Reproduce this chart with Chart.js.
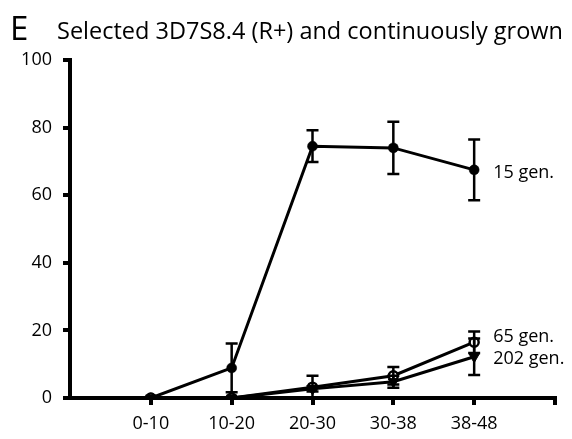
<!DOCTYPE html>
<html>
<head>
<meta charset="utf-8">
<script src="https://cdn.jsdelivr.net/npm/chart.js@4/dist/chart.umd.min.js"></script>
<style>
  html, body { margin: 0; padding: 0; background: #fff; }
  #wrap { width: 572px; height: 439px; }
</style>
</head>
<body>
<div id="wrap"><canvas id="chart"></canvas></div>
<script>
const categories = ["0-10", "10-20", "20-30", "30-38", "38-48"];
const yTicks = [0, 20, 40, 60, 80, 100];
const seriesNames = ["202 gen.", "65 gen.", "15 gen."];
const gen202 = [0, 0, 2.7, 4.8, 12.2];
const gen202Err = [0, 0, 0.8, 1.8, 5.4];
const gen65 = [0, 0, 3.2, 6.6, 16.5];
const gen65Err = [0, 0, 3.4, 2.6, 3.2];
const gen15 = [0, 8.9, 74.5, 74, 67.5];
const gen15Err = [0, 7.2, 4.7, 7.7, 9];

const FONT = "'Open Sans', 'Noto Sans', sans-serif";

const toPoints = (vals) => vals.map((v, i) => ({ x: i, y: v }));

// error bars + end labels drawn through the chart scales
const extrasPlugin = {
  id: "extras",
  afterDatasetsDraw(chart) {
    const ctx = chart.ctx;
    const xs = chart.scales.x, ys = chart.scales.y;
    const errs = [gen202Err, gen65Err, gen15Err];
    ctx.save();
    ctx.strokeStyle = "#000";
    ctx.lineWidth = 2.5;
    chart.data.datasets.forEach((ds, di) => {
      ds.data.forEach((p, i) => {
        const e = errs[di][i];
        if (!e) return;
        const px = xs.getPixelForValue(p.x);
        const top = ys.getPixelForValue(p.y + e);
        const bot = ys.getPixelForValue(Math.max(0, p.y - e));
        ctx.beginPath();
        ctx.moveTo(px, top); ctx.lineTo(px, bot);
        ctx.moveTo(px - 6, top); ctx.lineTo(px + 6, top);
        if (p.y - e > 0) { ctx.moveTo(px - 6, bot); ctx.lineTo(px + 6, bot); }
        ctx.stroke();
      });
    });
    ctx.fillStyle = "#000";
    ctx.font = "18px " + FONT;
    ctx.textBaseline = "middle";
    const last = categories.length - 1;
    const lx = xs.getPixelForValue(last) + 19;
    ctx.fillText(seriesNames[2], lx, ys.getPixelForValue(gen15[last]) + 3);
    ctx.fillText(seriesNames[1], lx, ys.getPixelForValue(gen65[last]) - 5);
    ctx.fillText(seriesNames[0], lx, ys.getPixelForValue(gen202[last]) + 2);
    ctx.restore();
  },
  afterDraw(chart) {
    const ctx = chart.ctx;
    ctx.save();
    ctx.fillStyle = "#000";
    ctx.textBaseline = "alphabetic";
    ctx.font = "33px " + FONT;
    ctx.fillText("E", 10, 40);
    ctx.font = "23.5px " + FONT;
    ctx.fillText("Selected 3D7S8.4 (R+) and continuously grown", 57, 39);
    ctx.restore();
  }
};

new Chart(document.getElementById("chart"), {
  type: "line",
  data: {
    datasets: [
      {
        label: seriesNames[0],
        data: toPoints(gen202),
        borderColor: "#000",
        borderWidth: 3,
        pointStyle: "triangle",
        rotation: 180,
        pointRadius: 6,
        pointBorderWidth: 1,
        pointBackgroundColor: "#000",
        pointBorderColor: "#000",
      },
      {
        label: seriesNames[1],
        data: toPoints(gen65),
        borderColor: "#000",
        borderWidth: 3,
        pointStyle: "circle",
        pointRadius: 4.5,
        pointBorderWidth: 2.5,
        pointBackgroundColor: "#fff",
        pointBorderColor: "#000",
      },
      {
        label: seriesNames[2],
        data: toPoints(gen15),
        borderColor: "#000",
        borderWidth: 3,
        pointStyle: "circle",
        pointRadius: 5,
        pointBorderWidth: 0.5,
        pointBackgroundColor: "#000",
        pointBorderColor: "#000",
      },
    ],
  },
  options: {
    responsive: true,
    maintainAspectRatio: false,
    animation: false,
    layout: { padding: { top: 60, right: 17, left: 0, bottom: 0 } },
    plugins: { legend: { display: false }, tooltip: { enabled: false }, title: { display: false } },
    scales: {
      x: {
        type: "linear",
        min: -1,
        max: categories.length,
        afterBuildTicks: (s) => { s.ticks = categories.map((c, i) => ({ value: i })).concat([{ value: categories.length }]); },
        afterFit: (s) => { s.height = 41; },
        border: { display: true, color: "#000", width: 4 },
        grid: { display: true, drawOnChartArea: false, color: "#000", lineWidth: 4, tickLength: 7 },
        ticks: {
          color: "#000",
          padding: 8,
          font: { family: FONT, size: 18 },
          maxRotation: 0,
          callback: (v) => categories[v] || "",
        },
      },
      y: {
        min: 0,
        max: 100,
        afterBuildTicks: (s) => { s.ticks = yTicks.map((v) => ({ value: v })); },
        afterFit: (s) => { s.width = 70; },
        border: { display: true, color: "#000", width: 4 },
        grid: { display: true, drawOnChartArea: false, color: "#000", lineWidth: 4, tickLength: 7 },
        ticks: {
          color: "#000",
          padding: 11,
          font: { family: FONT, size: 18 },
        },
      },
    },
  },
  plugins: [extrasPlugin],
});
</script>
</body>
</html>
